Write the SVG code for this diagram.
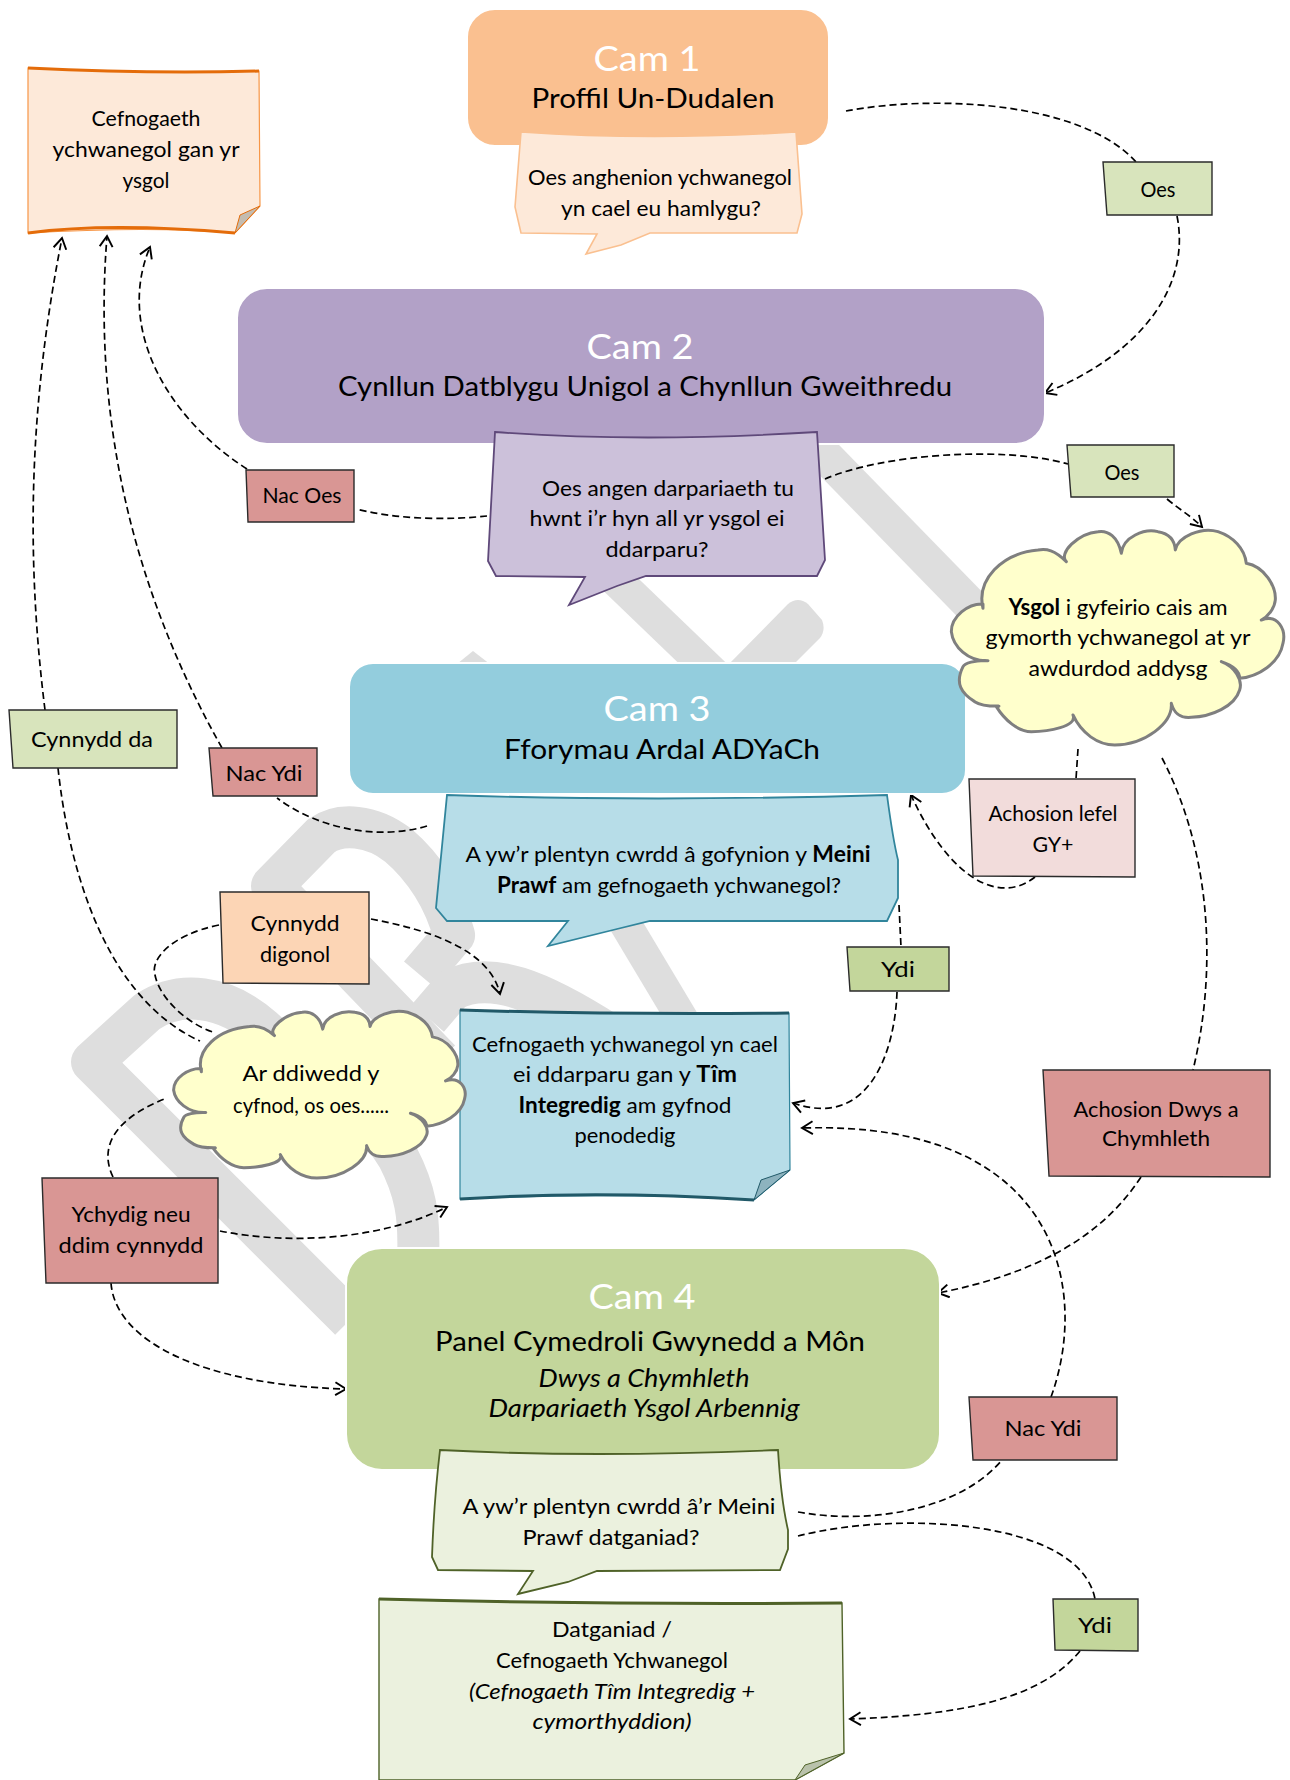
<svg xmlns="http://www.w3.org/2000/svg" width="1290" height="1780" viewBox="0 0 1290 1780">
<style>
text{font-family:"Lato","Noto Sans",sans-serif;text-anchor:middle;fill:#000;font-size:22px}
.h{font-size:34px;fill:#fff}
.s{font-size:27px}
.b{font-weight:700}
.i{font-style:italic}
.cam{stroke:#fff;stroke-width:2}
.lab{stroke:#2b2b2b;stroke-width:1.4}
.edge{stroke-width:3;fill:none}
.wm{fill:none;stroke:#dedede;stroke-width:42;stroke-linejoin:round}
.wf{fill:#dedede}
.cl{fill:#ffffcc;stroke:#7f7f7f;stroke-width:3;stroke-linejoin:round}
#connectors path{fill:none;stroke:#000;stroke-width:1.7;stroke-dasharray:7 4}
.arr{marker-end:url(#a)}
</style>
<defs>
<marker id="a" viewBox="0 0 14 14" refX="12" refY="7" markerWidth="15" markerHeight="15" markerUnits="userSpaceOnUse" orient="auto"><path d="M2,1 L12,7 L2,13" fill="none" stroke="#000" stroke-width="1.8"/></marker>
<path id="cloud" vector-effect="non-scaling-stroke" d="M135,325 C115,240 190,160 300,150 C325,145 350,150 385,185 C360,160 420,100 480,95 C510,90 540,110 550,160 C555,110 620,85 660,95 C690,100 710,115 712,150 C720,110 790,80 840,95 C885,110 920,145 925,190 C980,200 1015,260 1012,300 C1010,325 990,350 970,360 C1020,340 1045,390 1035,430 C1025,490 960,530 905,535 C905,510 880,495 850,485 C890,500 915,540 905,570 C890,620 820,650 760,652 C730,655 710,645 700,610 C705,670 620,735 530,735 C480,735 430,700 405,645 C420,680 330,695 280,695 C240,695 200,660 175,620 C205,615 140,625 110,605 C70,580 50,550 75,500 C80,490 110,480 150,482 C90,485 45,440 40,395 C40,350 90,310 135,312 Z"/>
</defs>
<rect width="1290" height="1780" fill="#fff"/>
<g id="watermark">
<path class="wm" d="M350,1320 L92,1062 L147,1012 C180,990 225,995 262,1028 C320,1080 370,1110 398,1157 C415,1190 420,1215 418,1260"/>
<path class="wm" d="M440,1060 L272,886 L321,836 C340,822 372,825 398,845 C425,868 445,900 454,935 L420,975"/>
<path class="wm" d="M428,1018 L452,990 C490,970 540,990 610,1035"/>
<path class="wm" style="stroke-width:35" d="M800,430 L990,625"/>
<path class="wm" style="stroke-width:33" d="M590,555 L720,680"/>
<path class="wm" style="stroke-width:32" d="M620,915 L684,1022"/>
<path class="wf" d="M725,668 L788,604 Q798,596 808,604 L822,620 Q826,630 820,638 L790,668Z"/>
<path class="wf" d="M452,668 L473,651 L495,668Z"/>
</g>
<g id="connectors">
<path d="M846,111 C930,95 1080,100 1136,162"/>
<path class="arr" d="M1177,216 C1190,280 1150,350 1045,393"/>
<path class="arr" d="M247,469 C170,420 115,330 150,247"/>
<path d="M487,516 C450,520 400,520 356,509"/>
<path d="M825,479 C880,455 1000,445 1068,464"/>
<path class="arr" d="M1167,499 C1180,510 1190,515 1202,527"/>
<path class="arr" d="M45,710 C25,550 30,400 62,238"/>
<path d="M58,768 C70,880 110,1000 200,1041"/>
<path class="arr" d="M222,748 C150,620 90,450 107,236"/>
<path d="M427,826 C380,840 320,830 277,798"/>
<path d="M219,925 C170,935 150,960 155,975 C160,1000 190,1025 213,1032"/>
<path class="arr" d="M371,919 C430,930 490,950 500,994"/>
<path d="M899,905 L901,947"/>
<path class="arr" d="M897,992 C895,1050 870,1130 793,1103"/>
<path d="M1078,749 L1076,779"/>
<path class="arr" d="M1035,877 C1000,905 950,880 911,795"/>
<path d="M1162,758 C1215,860 1215,980 1193,1070"/>
<path class="arr" d="M1141,1177 C1100,1240 1030,1275 938,1293"/>
<path class="arr" d="M1051,1397 C1090,1290 1060,1120 802,1128"/>
<path d="M798,1512 C870,1525 960,1510 1002,1460"/>
<path d="M798,1536 C900,1510 1080,1520 1095,1599"/>
<path class="arr" d="M1080,1651 C1040,1700 960,1715 850,1719"/>
<path d="M113,1177 C100,1150 110,1120 167,1098"/>
<path class="arr" d="M220,1231 C290,1245 380,1240 447,1207"/>
<path class="arr" d="M111,1283 C115,1340 200,1385 346,1389"/>
</g>
<g id="cam1"><rect class="cam" x="467" y="9" width="362" height="137" rx="28" fill="#fac090"/>
<text class="h" x="647" y="71" textLength="107" lengthAdjust="spacingAndGlyphs">Cam 1</text>
<text class="s" x="653" y="108" textLength="243" lengthAdjust="spacingAndGlyphs">Proffil Un-Dudalen</text></g>
<g id="callout1"><path d="M521,132 Q650,141 796,132 L802,214 L797,233 L650,233 L621,245 L586,254 L597,234 L521,233 L515,207Z" fill="#fde9d9" stroke="#fac090" stroke-width="1.6"/>
<text x="660" y="185" textLength="264" lengthAdjust="spacingAndGlyphs">Oes anghenion ychwanegol</text>
<text x="661" y="216" textLength="200" lengthAdjust="spacingAndGlyphs">yn cael eu hamlygu?</text></g>
<g id="note1"><path d="M28,68 Q150,74 259,71 L260,206 L235,233 Q150,226 28,233Z" fill="#fde9d9" stroke="#f79646" stroke-width="1.2"/>
<path class="edge" stroke="#e46c0a" d="M28,68 Q150,74 259,71 M28,233 Q110,222 235,233"/>
<path d="M260,206 L240,215 L235,233Z" fill="#c4bcb0" stroke="#e46c0a" stroke-width="1"/>
<text x="146" y="126" textLength="109" lengthAdjust="spacingAndGlyphs">Cefnogaeth</text>
<text x="146" y="157" textLength="187" lengthAdjust="spacingAndGlyphs">ychwanegol gan yr</text>
<text x="146" y="188" textLength="47" lengthAdjust="spacingAndGlyphs">ysgol</text></g>
<g id="oes1"><path class="lab" d="M1103,162 L1212,162 L1212,215 L1107,215Z" fill="#d8e4bc"/>
<text x="1158" y="197" textLength="35" lengthAdjust="spacingAndGlyphs">Oes</text></g>
<g id="cam2"><rect class="cam" x="237" y="288" width="808" height="156" rx="30" fill="#b2a1c7"/>
<text class="h" x="640" y="359" textLength="107" lengthAdjust="spacingAndGlyphs">Cam 2</text>
<text class="s" x="645" y="396" textLength="614" lengthAdjust="spacingAndGlyphs">Cynllun Datblygu Unigol a Chynllun Gweithredu</text></g>
<g id="callout2"><path d="M495,432 Q640,443 817,432 L825,560 L817,576 L646,576 L617,586 L569,605 L585,577 L496,576 L488,561Z" fill="#ccc1da" stroke="#5f497a" stroke-width="1.8"/>
<text x="668" y="496" textLength="252" lengthAdjust="spacingAndGlyphs">Oes angen darpariaeth tu</text>
<text x="657" y="526" textLength="255" lengthAdjust="spacingAndGlyphs">hwnt i’r hyn all yr ysgol ei</text>
<text x="657" y="557" textLength="103" lengthAdjust="spacingAndGlyphs">ddarparu?</text></g>
<g id="nacoes"><path class="lab" d="M246,470 L354,470 L354,522 L248,522Z" fill="#d99694"/>
<text x="302" y="503" textLength="79" lengthAdjust="spacingAndGlyphs">Nac Oes</text></g>
<g id="oes2"><path class="lab" d="M1067,445 L1174,445 L1174,497 L1071,497Z" fill="#d8e4bc"/>
<text x="1122" y="480" textLength="35" lengthAdjust="spacingAndGlyphs">Oes</text></g>
<g id="cam3"><rect class="cam" x="349" y="663" width="617" height="131" rx="24" fill="#93cddd"/>
<text class="h" x="657" y="721" textLength="107" lengthAdjust="spacingAndGlyphs">Cam 3</text>
<text class="s" x="662" y="759" textLength="316" lengthAdjust="spacingAndGlyphs">Fforymau Ardal ADYaCh</text></g>
<g id="cloud1"><use href="#cloud" class="cl" transform="translate(938,500) scale(.3333)"/>
<text x="1118" y="615" textLength="219" lengthAdjust="spacingAndGlyphs"><tspan class="b">Ysgol</tspan> i gyfeirio cais am</text>
<text x="1118" y="645" textLength="265" lengthAdjust="spacingAndGlyphs">gymorth ychwanegol at yr</text>
<text x="1118" y="676" textLength="179" lengthAdjust="spacingAndGlyphs">awdurdod addysg</text></g>
<g id="callout3"><path d="M447,795 Q650,802 887,795 Q893,840 898,860 L898,898 L887,921 L650,921 L617,929 L548,946 L568,921 L447,921 L436,908Z" fill="#b7dde8" stroke="#31859c" stroke-width="1.8"/>
<text x="668" y="862" textLength="405" lengthAdjust="spacingAndGlyphs">A yw’r plentyn cwrdd â gofynion y <tspan class="b">Meini</tspan></text>
<text x="669" y="893" textLength="344" lengthAdjust="spacingAndGlyphs"><tspan class="b">Prawf</tspan> am gefnogaeth ychwanegol?</text></g>
<g id="cynnyddda"><path class="lab" d="M9,710 L177,710 L177,768 L13,768Z" fill="#d8e4bc"/>
<text x="92" y="747" textLength="122" lengthAdjust="spacingAndGlyphs">Cynnydd da</text></g>
<g id="nacydi1"><path class="lab" d="M209,748 L317,748 L317,796 L213,796Z" fill="#d99694"/>
<text x="264" y="781" textLength="77" lengthAdjust="spacingAndGlyphs">Nac Ydi</text></g>
<g id="achosion1"><path class="lab" d="M969,779 L1135,779 L1135,877 L973,876Z" fill="#f2dcdb"/>
<text x="1053" y="821" textLength="129" lengthAdjust="spacingAndGlyphs">Achosion lefel</text>
<text x="1053" y="852" textLength="41" lengthAdjust="spacingAndGlyphs">GY+</text></g>
<g id="digonol"><path class="lab" d="M220,892 L369,892 L369,984 L223,983Z" fill="#fcd5b5"/>
<text x="295" y="931" textLength="89" lengthAdjust="spacingAndGlyphs">Cynnydd</text>
<text x="295" y="962" textLength="70" lengthAdjust="spacingAndGlyphs">digonol</text></g>
<g id="ydi1"><path class="lab" d="M847,947 L949,947 L949,991 L850,991Z" fill="#c3d69b"/>
<text x="898" y="977" textLength="34" lengthAdjust="spacingAndGlyphs">Ydi</text></g>
<g id="note2"><path d="M460,1010 Q620,1015 789,1013 L790,1170 L754,1200 Q620,1192 460,1199Z" fill="#b7dde8" stroke="#31859c" stroke-width="1.2"/>
<path class="edge" stroke="#215968" d="M460,1010 Q620,1015 789,1013 M460,1199 Q600,1190 754,1200"/>
<path d="M790,1170 L761,1180 L754,1200Z" fill="#8db3bf" stroke="#215968" stroke-width="1"/>
<text x="625" y="1052" textLength="306" lengthAdjust="spacingAndGlyphs">Cefnogaeth ychwanegol yn cael</text>
<text x="625" y="1082" textLength="224" lengthAdjust="spacingAndGlyphs">ei ddarparu gan y <tspan class="b">Tîm</tspan></text>
<text x="625" y="1113" textLength="213" lengthAdjust="spacingAndGlyphs"><tspan class="b">Integredig</tspan> am gyfnod</text>
<text x="625" y="1143" textLength="101" lengthAdjust="spacingAndGlyphs">penodedig</text></g>
<g id="cloud2"><use href="#cloud" class="cl" transform="translate(161.9,987.7) scale(.2924,.2589)"/>
<text x="311" y="1081" textLength="137" lengthAdjust="spacingAndGlyphs">Ar ddiwedd y</text>
<text x="311" y="1113" textLength="156" lengthAdjust="spacingAndGlyphs">cyfnod, os oes......</text></g>
<g id="dwys"><path class="lab" d="M1043,1070 L1270,1070 L1270,1177 L1049,1176Z" fill="#d99694"/>
<text x="1156" y="1117" textLength="165" lengthAdjust="spacingAndGlyphs">Achosion Dwys a</text>
<text x="1156" y="1146" textLength="108" lengthAdjust="spacingAndGlyphs">Chymhleth</text></g>
<g id="ychydig"><path class="lab" d="M42,1178 L218,1178 L218,1283 L46,1283Z" fill="#d99694"/>
<text x="131" y="1222" textLength="119" lengthAdjust="spacingAndGlyphs">Ychydig neu</text>
<text x="131" y="1253" textLength="145" lengthAdjust="spacingAndGlyphs">ddim cynnydd</text></g>
<g id="cam4"><rect class="cam" x="346" y="1248" width="594" height="222" rx="36" fill="#c3d69b"/>
<text class="h" x="642" y="1309" textLength="107" lengthAdjust="spacingAndGlyphs">Cam 4</text>
<text class="s" x="650" y="1351" textLength="430" lengthAdjust="spacingAndGlyphs">Panel Cymedroli Gwynedd a Môn</text>
<text class="i" style="font-size:25px" x="644" y="1387" textLength="211" lengthAdjust="spacingAndGlyphs">Dwys a Chymhleth</text>
<text class="i" style="font-size:25px" x="644" y="1417" textLength="311" lengthAdjust="spacingAndGlyphs">Darpariaeth Ysgol Arbennig</text></g>
<g id="callout4"><path d="M440,1450 Q590,1458 778,1450 Q781,1500 788,1530 L788,1549 L780,1570 L597,1571 L568,1582 L518,1594 L533,1571 L438,1570 L432,1557 Q434,1500 440,1450Z" fill="#ebf1de" stroke="#4f6228" stroke-width="1.8"/>
<text x="619" y="1514" textLength="313" lengthAdjust="spacingAndGlyphs">A yw’r plentyn cwrdd â’r Meini</text>
<text x="611" y="1545" textLength="177" lengthAdjust="spacingAndGlyphs">Prawf datganiad?</text></g>
<g id="nacydi2"><path class="lab" d="M969,1397 L1117,1397 L1117,1460 L973,1460Z" fill="#d99694"/>
<text x="1043" y="1436" textLength="77" lengthAdjust="spacingAndGlyphs">Nac Ydi</text></g>
<g id="ydi2"><path class="lab" d="M1053,1599 L1138,1599 L1138,1651 L1055,1650Z" fill="#c3d69b"/>
<text x="1095" y="1633" textLength="34" lengthAdjust="spacingAndGlyphs">Ydi</text></g>
<g id="note3"><path d="M379,1599 Q610,1605 842,1603 L844,1753 L795,1780 L379,1780Z" fill="#ebf1de" stroke="#4f6228" stroke-width="1.4"/>
<path class="edge" stroke="#4f6228" d="M379,1599 Q610,1605 842,1603"/>
<path d="M844,1753 L805,1765 L795,1780Z" fill="#b9c2ab" stroke="#4f6228" stroke-width="1"/>
<text x="612" y="1637" textLength="120" lengthAdjust="spacingAndGlyphs">Datganiad /</text>
<text x="612" y="1668" textLength="232" lengthAdjust="spacingAndGlyphs">Cefnogaeth Ychwanegol</text>
<text class="i" x="612" y="1699" textLength="286" lengthAdjust="spacingAndGlyphs">(Cefnogaeth Tîm Integredig +</text>
<text class="i" x="612" y="1729" textLength="159" lengthAdjust="spacingAndGlyphs">cymorthyddion)</text></g>
</svg>
